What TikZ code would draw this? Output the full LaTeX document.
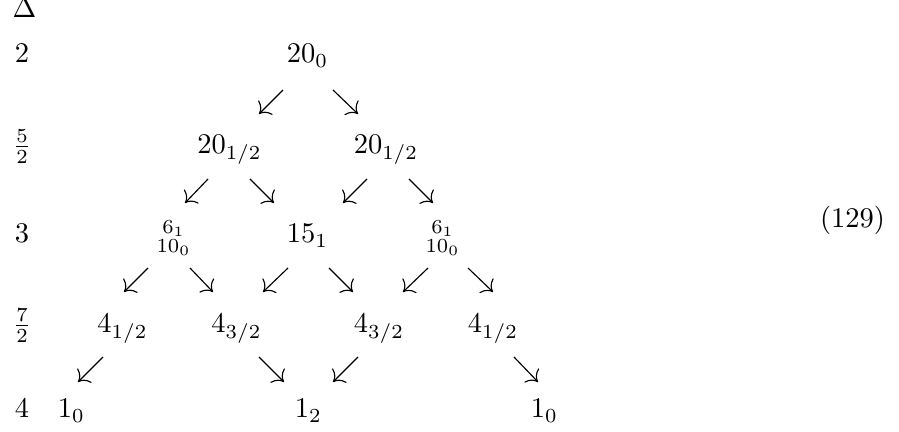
\documentclass[tikz,border=0pt]{standalone}
\usepackage{amsmath}
\usetikzlibrary{arrows.meta}
\begin{document}
\begin{tikzpicture}[x=0.35088pt,y=-0.35088pt,
  lbl/.style={anchor=base,inner sep=0pt,outer sep=0pt},
  stk/.style={anchor=center,inner sep=0pt,outer sep=0pt},
  arr/.style={-{To[scale=1.35]},line width=0.4pt}]
\useasboundingbox (0,0) rectangle (899,432);
% row labels
\node[anchor=base west,inner sep=0pt] (delta) at (12,18) {$\Delta$};
\node[lbl] (d2) at (22,63) {$2$};
\node[lbl] (d52) at (22,154) {$\frac{5}{2}$};
\node[lbl] (d3) at (22,243) {$3$};
\node[lbl] (d72) at (22,333) {$\frac{7}{2}$};
\node[lbl] (d4) at (22,418) {$4$};
% row 1
\node[lbl] (a) at (307.5,63) {$20_0$};
% row 2
\node[lbl] (b1) at (229.5,154) {$20_{1/2}$};
\node[lbl] (b2) at (386,154) {$20_{1/2}$};
% row 3
\node[stk] (c1) at (173.5,238) {$\substack{6_1\\10_0}$};
\node[lbl] (c2) at (307.5,243) {$15_1$};
\node[stk] (c3) at (442.5,238) {$\substack{6_1\\10_0}$};
% row 4
\node[lbl] (e1) at (122.5,333) {$4_{1/2}$};
\node[lbl] (e2) at (236.5,333) {$4_{3/2}$};
\node[lbl] (e3) at (379,333) {$4_{3/2}$};
\node[lbl] (e4) at (493,333) {$4_{1/2}$};
% row 5
\node[lbl] (f1) at (71.5,418) {$1_0$};
\node[lbl] (f2) at (308.5,418) {$1_2$};
\node[lbl] (f3) at (544.5,418) {$1_0$};
% equation number
\node[lbl] (eq) at (852.5,228) {(129)};
% arrow end points
\coordinate (p1s) at (283,90);  \coordinate (p1e) at (259,114);
\coordinate (p2s) at (333,90);  \coordinate (p2e) at (358,114);
\coordinate (q1s) at (208,179); \coordinate (q1e) at (185,203);
\coordinate (q2s) at (250,179); \coordinate (q2e) at (274,203);
\coordinate (q3s) at (367,179); \coordinate (q3e) at (343,203);
\coordinate (q4s) at (409,179); \coordinate (q4e) at (433,203);
\coordinate (r1s) at (148,268); \coordinate (r1e) at (124,292);
\coordinate (r2s) at (190,268); \coordinate (r2e) at (213,292);
\coordinate (r3s) at (288,268); \coordinate (r3e) at (263,292);
\coordinate (r4s) at (329,268); \coordinate (r4e) at (353,292);
\coordinate (r5s) at (428,268); \coordinate (r5e) at (403,292);
\coordinate (r6s) at (468,268); \coordinate (r6e) at (493,292);
\coordinate (s1s) at (103,357); \coordinate (s1e) at (78,382);
\coordinate (s2s) at (259,357); \coordinate (s2e) at (284,382);
\coordinate (s3s) at (358,357); \coordinate (s3e) at (333,382);
\coordinate (s4s) at (514,357); \coordinate (s4e) at (538,382);
\foreach \n in {p1,p2,q1,q2,q3,q4,r1,r2,r3,r4,r5,r6,s1,s2,s3,s4}
  \draw[arr] (\n s) -- (\n e);
\end{tikzpicture}
\end{document}
